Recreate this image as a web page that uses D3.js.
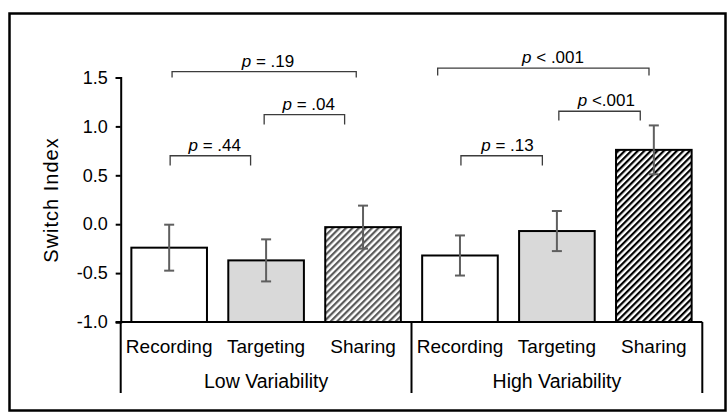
<!DOCTYPE html>
<html>
<head>
<meta charset="utf-8">
<script src="https://cdn.jsdelivr.net/npm/d3@7"></script>
<style>
  body { margin: 0; background: #fff; }
  text { font-family: "Liberation Sans", Arial, sans-serif; fill: #000; }
</style>
</head>
<body>
<svg id="switch_chart" width="727" height="414"></svg>
<script>
var groups = ['Low Variability', 'High Variability'];
var categories = ['Recording', 'Targeting', 'Sharing'];
var lowMeans = [-0.24, -0.37, -0.03];
var lowErrors = [0.235, 0.215, 0.22];
var highMeans = [-0.32, -0.07, 0.76];
var highErrors = [0.205, 0.205, 0.25];
var yTicks = [-1.0, -0.5, 0.0, 0.5, 1.0, 1.5];

// comparison brackets, x in slot units (0..5), y in index units
var bracketLabels = ['= .44', '= .04', '= .19', '= .13', '<.001', '< .001'];
var bracketFrom = [0.01, 0.98, 0.03, 3.01, 4.02, 2.77];
var bracketTo = [0.84, 1.81, 1.93, 3.85, 4.86, 4.95];
var bracketTop = [0.70, 1.12, 1.56, 0.70, 1.155, 1.595];
var bracketEnd = [0.60, 1.02, 1.50, 0.60, 1.06, 1.52];
var bracketTextAt = [0.47, 1.44, 1.02, 3.49, 4.51, 3.96];

function buildChart() {
  var svg = d3.select('#switch_chart');
  var axisLeft = 120.7, axisRight = 702.3;

  var defs = svg.append('defs');
  var pats = [['hatchGray', '#5a5a5a'], ['hatchBlack', '#000']];
  pats.forEach(function (p) {
    var pat = defs.append('pattern')
      .attr('id', p[0])
      .attr('patternUnits', 'userSpaceOnUse')
      .attr('width', 4.6)
      .attr('height', 4.6)
      .attr('patternTransform', 'rotate(45)');
    pat.append('rect').attr('width', 4.6).attr('height', 4.6).attr('fill', '#fff');
    pat.append('rect').attr('width', 2.2).attr('height', 4.6).attr('fill', p[1]);
  });

  // outer frame
  svg.append('rect')
    .attr('x', 9.5).attr('y', 13.5)
    .attr('width', 716).attr('height', 397)
    .attr('fill', 'none')
    .attr('stroke', '#000')
    .attr('stroke-width', 2.5);

  var rows = [];
  groups.forEach(function (g, gi) {
    var means = gi == 0 ? lowMeans : highMeans;
    var errs = gi == 0 ? lowErrors : highErrors;
    categories.forEach(function (c, ci) {
      rows.push({ group: g, cat: c, ci: ci, gi: gi, key: g + '|' + c, mean: means[ci], err: errs[ci] });
    });
  });

  var xScale = d3.scaleBand()
    .domain(rows.map(d => d.key))
    .range([axisLeft, axisRight])
    .paddingInner(0.22)
    .paddingOuter(0.11);
  var yScale = d3.scaleLinear()
    .domain([-1, 1.5])
    .range([322, 77.5]);

  var slotX = function (u) {
    return axisLeft + xScale.step() * (u + 0.5);
  };

  // y axis
  var yAxisG = svg.append('g')
    .attr('transform', 'translate(' + axisLeft + ',0)')
    .call(d3.axisLeft(yScale).tickValues(yTicks).tickSize(5).tickPadding(8)
      .tickFormat(d => d.toFixed(1)));
  yAxisG.select('.domain').attr('stroke', '#000').attr('stroke-width', 2);
  yAxisG.selectAll('.tick line').attr('stroke', '#000').attr('stroke-width', 2);
  yAxisG.selectAll('.tick text')
    .style('font-size', '18px')
    .style('font-family', '"Liberation Sans", Arial, sans-serif')
    .attr('fill', '#000');

  svg.append('text')
    .attr('transform', 'translate(51,200) rotate(-90)')
    .attr('text-anchor', 'middle')
    .attr('dy', '0.35em')
    .style('font-size', '20px')
    .style('letter-spacing', '1px')
    .text('Switch Index');

  // bars
  var fills = ['#fff', '#d9d9d9'];
  svg.selectAll('.bar')
    .data(rows)
    .enter()
    .append('rect')
    .attr('class', 'bar')
    .attr('x', d => xScale(d.key))
    .attr('width', xScale.bandwidth())
    .attr('y', d => yScale(d.mean))
    .attr('height', d => yScale(-1) - yScale(d.mean))
    .attr('fill', d => d.ci == 2 ? (d.gi == 0 ? 'url(#hatchGray)' : 'url(#hatchBlack)') : fills[d.ci])
    .attr('stroke', '#000')
    .attr('stroke-width', 2);

  // error bars
  var errG = svg.selectAll('.err')
    .data(rows)
    .enter()
    .append('g')
    .attr('class', 'err')
    .attr('stroke', '#5f5f5f')
    .attr('stroke-width', 2);
  errG.append('line')
    .attr('x1', d => xScale(d.key) + xScale.bandwidth() / 2)
    .attr('x2', d => xScale(d.key) + xScale.bandwidth() / 2)
    .attr('y1', d => yScale(d.mean + d.err))
    .attr('y2', d => yScale(d.mean - d.err));
  [1, -1].forEach(function (s) {
    errG.append('line')
      .attr('x1', d => xScale(d.key) + xScale.bandwidth() / 2 - 5)
      .attr('x2', d => xScale(d.key) + xScale.bandwidth() / 2 + 5)
      .attr('y1', d => yScale(d.mean + s * d.err))
      .attr('y2', d => yScale(d.mean + s * d.err));
  });

  // category axis
  svg.append('line')
    .attr('x1', axisLeft - 5).attr('x2', axisRight)
    .attr('y1', yScale(-1)).attr('y2', yScale(-1))
    .attr('stroke', '#000').attr('stroke-width', 2);
  var groupW = (axisRight - axisLeft) / groups.length;
  d3.range(groups.length + 1).forEach(function (i) {
    svg.append('line')
      .attr('x1', axisLeft + groupW * i).attr('x2', axisLeft + groupW * i)
      .attr('y1', yScale(-1)).attr('y2', 393)
      .attr('stroke', '#000').attr('stroke-width', 2);
  });
  svg.selectAll('.catLabel')
    .data(rows)
    .enter()
    .append('text')
    .attr('class', 'catLabel')
    .attr('x', d => xScale(d.key) + xScale.bandwidth() / 2)
    .attr('y', 353)
    .attr('text-anchor', 'middle')
    .style('font-size', '19px')
    .text(d => d.cat);
  svg.selectAll('.groupLabel')
    .data(groups)
    .enter()
    .append('text')
    .attr('class', 'groupLabel')
    .attr('x', (d, i) => axisLeft + groupW * (i + 0.5))
    .attr('y', 388)
    .attr('text-anchor', 'middle')
    .style('font-size', '19.5px')
    .text(d => d);

  // brackets
  var brG = svg.selectAll('.bracket')
    .data(bracketLabels)
    .enter()
    .append('g')
    .attr('class', 'bracket');
  brG.append('path')
    .attr('d', function (d, i) {
      var x1 = slotX(bracketFrom[i]), x2 = slotX(bracketTo[i]);
      return 'M' + x1 + ',' + yScale(bracketEnd[i]) +
        'V' + yScale(bracketTop[i]) + 'H' + x2 + 'V' + yScale(bracketEnd[i]);
    })
    .attr('fill', 'none')
    .attr('stroke', '#3c3c3c')
    .attr('stroke-width', 1.3);
  var brText = brG.append('text')
    .attr('x', (d, i) => slotX(bracketTextAt[i]))
    .attr('y', (d, i) => yScale(bracketTop[i]) - 5)
    .attr('text-anchor', 'middle')
    .style('font-size', '17px');
  brText.append('tspan').style('font-style', 'italic').text('p');
  brText.append('tspan').text(d => ' ' + d);
}

buildChart();
</script>
</body>
</html>
